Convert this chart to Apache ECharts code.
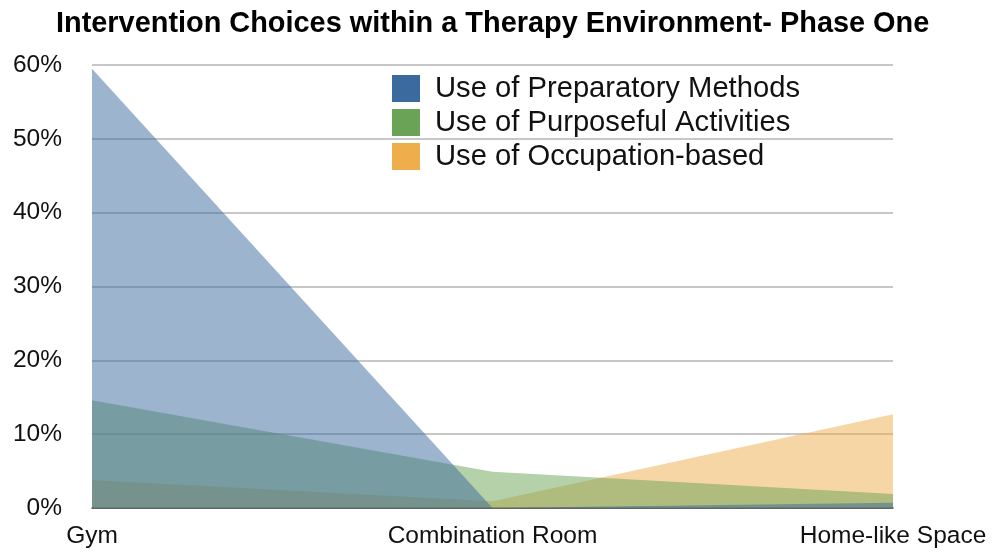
<!DOCTYPE html>
<html>
<head>
<meta charset="utf-8">
<script src="https://cdn.jsdelivr.net/npm/echarts@6/dist/echarts.min.js"></script>
<style>html,body{margin:0;padding:0;background:#fff}#c{width:993px;height:556px}</style>
</head>
<body>
<div id="c"></div>
<script>
const categories = ["Gym", "Combination Room", "Home-like Space"];
const seriesNames = ["Use of Preparatory Methods", "Use of Purposeful Activities", "Use of Occupation-based"];
const preparatory = [59.5, 0, 0.7];
const purposeful = [14.6, 4.9, 1.9];
const occupation = [3.8, 0.9, 12.7];
const yTicks = [0, 10, 20, 30, 40, 50, 60];
const colors = ["#3B6A9E", "#6AA355", "#EFAE4C"];

const chart = echarts.init(document.getElementById('c'));
const font = "'Liberation Sans', Arial, Helvetica, sans-serif";
const values = [preparatory, purposeful, occupation];
const zs = [4, 3, 2];
chart.setOption({
  animation: false,
  title: {
    text: "Intervention Choices within a Therapy Environment- Phase One",
    left: 51, top: 5,
    textStyle: { fontFamily: font, fontWeight: 'bold', fontSize: 28.9, color: '#000' }
  },
  legend: {
    orient: 'vertical',
    left: 387, top: 69,
    icon: 'rect',
    itemWidth: 28, itemHeight: 27,
    itemGap: 5,
    textStyle: { fontFamily: font, fontSize: 29.2, color: '#111', padding: [0, 0, 0, 10] },
    data: seriesNames
  },
  grid: { left: 92, right: 100, top: 65, bottom: 48, containLabel: false },
  xAxis: {
    type: 'category',
    data: categories,
    boundaryGap: false,
    axisLine: { lineStyle: { color: '#444', width: 1.5 } },
    axisTick: { show: false },
    axisLabel: { fontFamily: font, fontSize: 24.5, color: '#111', margin: 16 }
  },
  yAxis: {
    type: 'value',
    min: yTicks[0], max: yTicks[yTicks.length - 1], interval: 10,
    axisLine: { show: false },
    axisTick: { show: false },
    axisLabel: { fontFamily: font, fontSize: 24.5, color: '#111', margin: 30, formatter: v => v + '%' },
    splitLine: { lineStyle: { color: '#b4b4b4', width: 1.5 } }
  },
  series: seriesNames.map((n, i) => ({
    name: n,
    type: 'line',
    data: values[i],
    color: colors[i],
    showSymbol: false,
    symbol: 'none',
    lineStyle: { width: 0 },
    areaStyle: { color: colors[i], opacity: 0.5 },
    z: zs[i]
  }))
});
</script>
</body>
</html>
